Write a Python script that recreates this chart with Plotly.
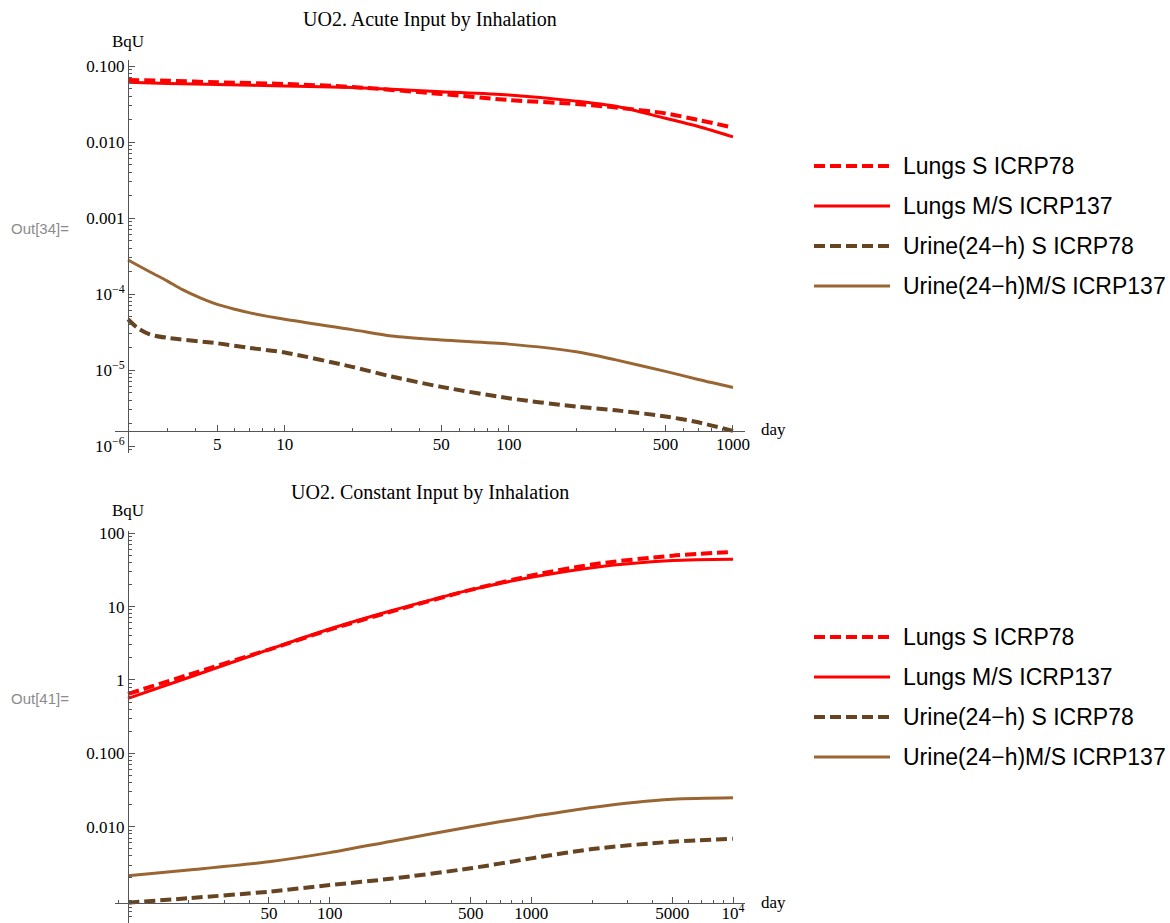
import plotly.graph_objects as go
import numpy as np

# ---------------- data ----------------
# Top panel: acute input (day 2 .. 1000)
acute_lungs_x = [2, 3, 5, 10, 20, 50, 100, 200, 300, 500, 700, 1000]
acute_lungs_S = [0.0655, 0.064, 0.061, 0.058, 0.053, 0.0428, 0.0357, 0.0316, 0.0285, 0.0238, 0.0195, 0.0155]
acute_lungs_MS = [0.061, 0.059, 0.057, 0.0546, 0.052, 0.0459, 0.0415, 0.0345, 0.0295, 0.0205, 0.016, 0.0117]

acute_urine_S_x = [2, 2.2, 2.5, 3, 5, 7, 10, 20, 30, 50, 100, 200, 300, 500, 700, 1000]
acute_urine_S = [4.65e-5, 3.6e-5, 2.95e-5, 2.65e-5, 2.25e-5, 1.95e-5, 1.7e-5, 1.1e-5, 8.2e-6,
                 6.0e-6, 4.25e-6, 3.3e-6, 2.95e-6, 2.45e-6, 2.05e-6, 1.58e-6]
acute_urine_MS_x = [2, 2.5, 3, 3.5, 4.2, 5, 6, 7, 10, 20, 30, 50, 100, 200, 300, 500, 700, 1000]
acute_urine_MS = [2.8e-4, 1.96e-4, 1.48e-4, 1.14e-4, 8.9e-5, 7.3e-5, 6.3e-5, 5.65e-5, 4.65e-5, 3.4e-5, 2.8e-5,
                  2.48e-5, 2.19e-5, 1.74e-5, 1.36e-5, 9.6e-6, 7.5e-6, 5.9e-6]

# Bottom panel: constant input (day 10 .. 10^4)
const_x = [10, 20, 50, 100, 200, 500, 1000, 2000, 5000, 10000]
const_lungs_S = [0.645, 1.18, 2.6, 4.85, 8.5, 16.9, 26.5, 37.5, 49.5, 55.6]
const_lungs_MS = [0.56, 1.08, 2.6, 4.95, 8.7, 16.9, 25.1, 34.0, 42.4, 44.2]
const_urine_S = [9.2e-4, 1.06e-3, 1.3e-3, 1.6e-3, 1.95e-3, 2.71e-3, 3.7e-3, 4.95e-3, 6.24e-3, 6.86e-3]
const_urine_MS = [2.15e-3, 2.57e-3, 3.33e-3, 4.43e-3, 6.3e-3, 0.0100, 0.0137, 0.0183, 0.0236, 0.0248]

series_names = ["Lungs S ICRP78", "Lungs M/S ICRP137", "Urine(24\u2212h) S ICRP78", "Urine(24\u2212h)M/S ICRP137"]
series_colors = ["#FF0000", "#FF0000", "#664422", "#996633"]
series_dash = ["11px,5px", "solid", "11px,5px", "solid"]
series_width = [4, 3, 4, 3]

top_xticks = [5, 10, 50, 100, 500, 1000]
top_xticktext = ["5", "10", "50", "100", "500", "1000"]
top_yticks = [0.1, 0.01, 0.001, 1e-4, 1e-5, 1e-6]
top_yticktext = ["0.100", "0.010", "0.001", "10<sup>\u22124</sup>", "10<sup>\u22125</sup>", "10<sup>\u22126</sup>"]
bot_xticks = [50, 100, 500, 1000, 5000, 10000]
bot_xticktext = ["50", "100", "500", "1000", "5000", "10<sup>4</sup>"]
bot_yticks = [100, 10, 1, 0.1, 0.01]
bot_yticktext = ["100", "10", "1", "0.100", "0.010"]

# ---------------- geometry helpers ----------------
W, H = 1170, 923
def px(xp):
    return xp / W
def py(yp):
    return 1 - yp / H

def minor_vals(lo_exp, hi_exp, majors):
    vals = []
    for e in range(lo_exp, hi_exp + 1):
        for m in range(1, 10):
            v = m * 10.0 ** e
            if not any(abs(v - mj) / mj < 1e-9 for mj in majors):
                vals.append(v)
    return vals

fig = go.Figure()

top_sets = [(acute_lungs_x, acute_lungs_S), (acute_lungs_x, acute_lungs_MS),
            (acute_urine_S_x, acute_urine_S), (acute_urine_MS_x, acute_urine_MS)]
bot_sets = [(const_x, const_lungs_S), (const_x, const_lungs_MS),
            (const_x, const_urine_S), (const_x, const_urine_MS)]

for i, (xs, ys) in enumerate(top_sets):
    fig.add_trace(go.Scatter(x=xs, y=ys, mode="lines", name=series_names[i], showlegend=False,
                             line=dict(color=series_colors[i], dash=series_dash[i], width=series_width[i],
                                       shape="spline", smoothing=0.8),
                             xaxis="x", yaxis="y"))
for i, (xs, ys) in enumerate(bot_sets):
    fig.add_trace(go.Scatter(x=xs, y=ys, mode="lines", name=series_names[i], showlegend=False,
                             line=dict(color=series_colors[i], dash=series_dash[i], width=series_width[i],
                                       shape="spline", smoothing=0.8),
                             xaxis="x2", yaxis="y2"))

serif = "Liberation Serif, Times New Roman, serif"
sans = "Liberation Sans, Arial, sans-serif"
axcol = "#555555"

common = dict(showgrid=False, zeroline=False, showline=True, linecolor=axcol, linewidth=1,
              ticks="inside", ticklen=6, tickwidth=1, tickcolor=axcol, automargin=False,
              tickfont=dict(family=serif, size=17, color="#000000"), type="log")

fig.update_layout(
    width=W, height=H, margin=dict(l=0, r=0, t=0, b=0, pad=0, autoexpand=False),
    paper_bgcolor="white", plot_bgcolor="white", showlegend=False,
    xaxis=dict(common, domain=[px(115), px(745)],
               range=[np.log10(2) - 13 / 224, 3 + 12 / 224],
               anchor="free", position=py(431), ticklabelstandoff=-2,
               tickmode="array", tickvals=top_xticks, ticktext=top_xticktext,
               minor=dict(ticks="inside", ticklen=3, tickcolor=axcol, tickmode="array",
                          tickvals=minor_vals(0, 2, top_xticks))),
    yaxis=dict(common, domain=[py(453), py(60)],
               range=[-6.092, -0.921],
               anchor="free", position=px(128),
               tickmode="array", tickvals=top_yticks, ticktext=top_yticktext,
               minor=dict(ticks="inside", ticklen=3, tickcolor=axcol, tickmode="array",
                          tickvals=minor_vals(-7, -1, top_yticks))),
    xaxis2=dict(common, domain=[px(115), px(745)],
                range=[1 - 13 / 201.7, 4 + 12 / 201.7],
                anchor="free", position=py(902.7), ticklabelstandoff=-5,
                tickmode="array", tickvals=bot_xticks, ticktext=bot_xticktext,
                minor=dict(ticks="inside", ticklen=3, tickcolor=axcol, tickmode="array",
                           tickvals=minor_vals(0, 3, bot_xticks + [10]))),
    yaxis2=dict(common, domain=[0, py(531)],
                range=[-3.313, 2.031],
                anchor="free", position=px(128),
                tickmode="array", tickvals=bot_yticks, ticktext=bot_yticktext,
                minor=dict(ticks="inside", ticklen=3, tickcolor=axcol, tickmode="array",
                           tickvals=minor_vals(-4, 1, bot_yticks + [0.001]) + [0.001])),
)

ann = []
def text(x, y, s, font, size, color="#000000", xanchor="center"):
    ann.append(dict(x=px(x), y=py(y), xref="paper", yref="paper", text=s, showarrow=False,
                    xanchor=xanchor, yanchor="middle", font=dict(family=font, size=size, color=color)))

text(430, 19, "UO2. Acute Input by Inhalation", serif, 20)
text(128, 42, "BqU", serif, 17)
text(773, 430, "day", serif, 17)
text(430, 492, "UO2. Constant Input by Inhalation", serif, 20)
text(128, 511, "BqU", serif, 17)
text(773, 902, "day", serif, 17)
text(9, 229, "Out[34]=", sans, 15, color="#8c8c8c", xanchor="left")
text(9, 698, "Out[41]=", sans, 15, color="#8c8c8c", xanchor="left")

shapes = []
for base_y in (166, 637):
    for i in range(4):
        yy = base_y + i * 40
        shapes.append(dict(type="line", xref="paper", yref="paper",
                           x0=px(814), x1=px(890), y0=py(yy), y1=py(yy),
                           line=dict(color=series_colors[i], width=series_width[i], dash=series_dash[i])))
        text(901, yy, series_names[i], sans, 23, xanchor="left")

fig.update_layout(annotations=ann, shapes=shapes)
fig.write_html("out.html")
